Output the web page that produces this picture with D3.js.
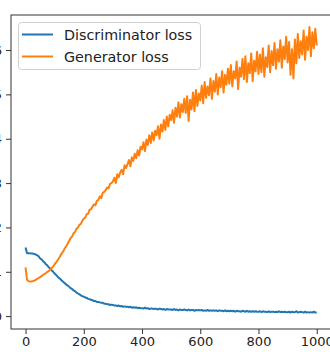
<!DOCTYPE html>
<html>
<head>
<meta charset="utf-8">
<script src="https://cdn.jsdelivr.net/npm/d3@7"></script>
<style>
  body { margin: 0; background: #fff; }
  svg { display: block; font-family: "DejaVu Sans", sans-serif; }
</style>
</head>
<body>
<svg id="chart"></svg>
<script>
// losses sampled every 5 epochs (index * step = epoch)
const step = 5;

const discLoss = [
  1.55, 1.42, 1.42, 1.42, 1.41, 1.41, 1.40, 1.39, 1.37, 1.35,
  1.30, 1.28, 1.24, 1.21, 1.17, 1.14, 1.10, 1.07, 1.03, 1.00,
  0.96, 0.93, 0.89, 0.86, 0.83, 0.80, 0.77, 0.74, 0.71, 0.69,
  0.66, 0.63, 0.61, 0.58, 0.56, 0.53, 0.51, 0.49, 0.47, 0.45,
  0.44, 0.42, 0.41, 0.39, 0.38, 0.37, 0.36, 0.34, 0.34, 0.32,
  0.32, 0.31, 0.30, 0.30, 0.28, 0.28, 0.27, 0.27, 0.25, 0.26,
  0.25, 0.24, 0.24, 0.23, 0.24, 0.22, 0.23, 0.21, 0.22, 0.21,
  0.21, 0.20, 0.21, 0.19, 0.20, 0.19, 0.20, 0.18, 0.19, 0.18,
  0.18, 0.17, 0.19, 0.17, 0.18, 0.16, 0.17, 0.17, 0.16, 0.17,
  0.16, 0.15, 0.17, 0.16, 0.15, 0.16, 0.14, 0.16, 0.15, 0.15,
  0.15, 0.14, 0.16, 0.14, 0.15, 0.13, 0.15, 0.14, 0.14, 0.15,
  0.14, 0.13, 0.15, 0.13, 0.14, 0.14, 0.12, 0.14, 0.13, 0.14,
  0.13, 0.14, 0.12, 0.13, 0.12, 0.14, 0.12, 0.13, 0.12, 0.13,
  0.12, 0.13, 0.11, 0.13, 0.12, 0.12, 0.11, 0.13, 0.11, 0.12,
  0.11, 0.12, 0.11, 0.12, 0.10, 0.12, 0.11, 0.11, 0.10, 0.12,
  0.11, 0.10, 0.12, 0.10, 0.11, 0.10, 0.11, 0.10, 0.11, 0.10,
  0.10, 0.11, 0.09, 0.11, 0.10, 0.10, 0.09, 0.11, 0.09, 0.10,
  0.10, 0.09, 0.10, 0.09, 0.11, 0.09, 0.10, 0.09, 0.10, 0.09,
  0.09, 0.10, 0.08, 0.10, 0.09, 0.09, 0.11, 0.08, 0.09, 0.10,
  0.09, 0.08, 0.10, 0.08, 0.09, 0.08, 0.09, 0.08, 0.10, 0.08,
  0.08
];

const genLoss = [
  1.10, 0.82, 0.79, 0.78, 0.78, 0.79, 0.80, 0.82, 0.84, 0.86,
  0.88, 0.90, 0.93, 0.95, 0.97, 1.00, 1.02, 1.05, 1.08, 1.12,
  1.17, 1.21, 1.26, 1.31, 1.37, 1.42, 1.47, 1.53, 1.58, 1.64,
  1.70, 1.76, 1.80, 1.87, 1.90, 1.97, 2.00, 2.06, 2.08, 2.15,
  2.20, 2.22, 2.30, 2.31, 2.40, 2.41, 2.47, 2.52, 2.50, 2.60,
  2.62, 2.70, 2.66, 2.78, 2.80, 2.84, 2.90, 2.88, 2.98, 3.00,
  3.04, 3.12, 3.00, 3.20, 3.13, 3.24, 3.30, 3.20, 3.40, 3.34,
  3.42, 3.52, 3.38, 3.58, 3.50, 3.66, 3.56, 3.74, 3.62, 3.82,
  3.76, 3.92, 3.72, 3.98, 3.86, 4.08, 3.90, 4.14, 3.96, 4.18,
  4.08, 4.28, 4.00, 4.32, 4.16, 4.42, 4.20, 4.50, 4.28, 4.54,
  4.42, 4.64, 4.36, 4.70, 4.50, 4.82, 4.48, 4.78, 4.60, 4.90,
  4.58, 4.96, 4.40, 4.88, 4.66, 5.04, 4.62, 5.10, 4.74, 5.02,
  4.86, 5.20, 4.80, 5.28, 4.92, 5.18, 4.98, 5.36, 4.90, 5.30,
  5.06, 5.46, 5.00, 5.38, 5.16, 5.52, 5.04, 5.44, 5.22, 5.58,
  5.24, 5.66, 5.18, 5.52, 5.36, 5.74, 5.12, 5.60, 5.40, 5.80,
  5.34, 5.86, 5.28, 5.70, 5.48, 5.92, 5.30, 5.76, 5.52, 5.96,
  5.46, 5.90, 5.50, 6.04, 5.40, 5.84, 5.62, 6.10, 5.50, 5.98,
  5.66, 6.16, 5.58, 6.02, 5.74, 6.22, 5.60, 6.08, 5.80, 6.30,
  5.72, 6.18, 5.44, 6.02, 5.36, 6.24, 5.70, 6.36, 5.82, 6.20,
  5.90, 6.44, 5.78, 6.30, 6.00, 6.52, 5.86, 6.40, 6.04, 6.48,
  6.10
];

const xTicks = [0, 200, 400, 600, 800, 1000];
const yTicks = [0, 1, 2, 3, 4, 5, 6];
const seriesNames = ["Discriminator loss", "Generator loss"];
const colors = ["#1f77b4", "#ff7f0e"];

let width = 330;
let height = 352;
let plotLeft = 11, plotRight = 331, plotTop = 15, plotBottom = 329;

let svg = d3.select("#chart")
    .attr("width", width)
    .attr("height", height);

let scaleX = d3.scaleLinear()
    .domain([-50, 1049])
    .range([plotLeft, plotRight]);

let scaleY = d3.scaleLinear()
    .domain([-0.29, 6.79])
    .range([plotBottom, plotTop]);

let line = d3.line()
    .x((d, i) => scaleX(i * step))
    .y(d => scaleY(d));

// clip to axes area
svg.append("clipPath").attr("id", "clip")
  .append("rect")
    .attr("x", plotLeft).attr("y", plotTop)
    .attr("width", plotRight - plotLeft).attr("height", plotBottom - plotTop);

let marks = svg.append("g").attr("clip-path", "url(#clip)");

[discLoss, genLoss].forEach((series, k) => {
  marks.append("path")
      .datum(series)
      .attr("fill", "none")
      .attr("stroke", colors[k])
      .attr("stroke-width", 2)
      .attr("stroke-linejoin", "round")
      .attr("d", line);
});

// axes
let axisX = d3.axisBottom(scaleX).tickValues(xTicks).tickFormat(d3.format("d"))
    .tickSize(5).tickPadding(3);
let axisY = d3.axisLeft(scaleY).tickValues(yTicks).tickFormat(d3.format("d"))
    .tickSize(5).tickPadding(4);

let gx = svg.append("g")
    .attr("transform", `translate(0, ${plotBottom})`)
    .call(axisX);
let gy = svg.append("g")
    .attr("transform", `translate(${plotLeft}, 0)`)
    .call(axisY);

[gx, gy].forEach(g => {
  g.select(".domain").remove();
  g.selectAll("line").attr("stroke", "#333").attr("stroke-width", 1);
  g.selectAll("text")
      .attr("fill", "#222")
      .style("font-family", "DejaVu Sans")
      .style("font-size", "13px");
});

// spines
svg.append("rect")
    .attr("x", plotLeft).attr("y", plotTop)
    .attr("width", plotRight - plotLeft).attr("height", plotBottom - plotTop)
    .attr("fill", "none")
    .attr("stroke", "#333")
    .attr("stroke-width", 1);

// legend
let legend = svg.append("g");
legend.append("rect")
    .attr("x", 18.5).attr("y", 22.5)
    .attr("width", 182).attr("height", 47)
    .attr("rx", 3)
    .attr("fill", "#fff").attr("fill-opacity", 0.8)
    .attr("stroke", "#d0d0d0");

seriesNames.forEach((name, k) => {
  let y = 34.5 + k * 22;
  legend.append("line")
      .attr("x1", 22).attr("x2", 53)
      .attr("y1", y).attr("y2", y)
      .attr("stroke", colors[k]).attr("stroke-width", 2);
  legend.append("text")
      .attr("x", 64).attr("y", y)
      .attr("dy", "0.35em")
      .attr("fill", "#222")
      .style("font-size", "14.3px")
      .text(name);
});
</script>
</body>
</html>
